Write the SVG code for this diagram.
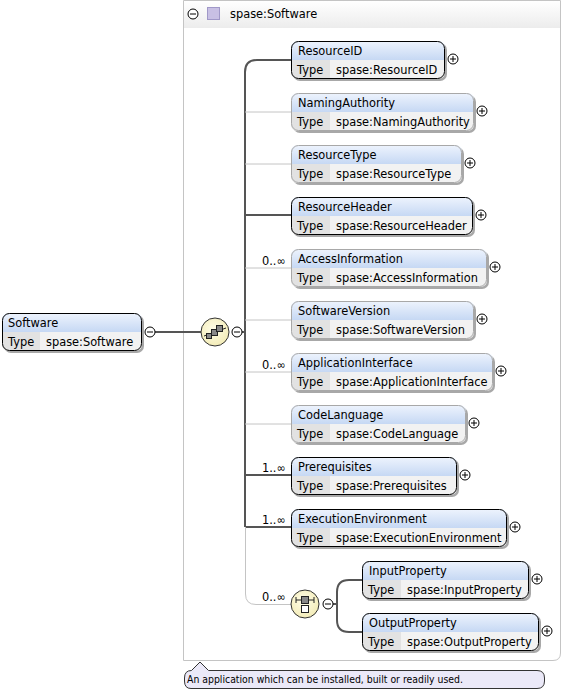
<svg xmlns="http://www.w3.org/2000/svg" width="563" height="693" viewBox="0 0 563 693">
<defs>
<linearGradient id="hg" x1="0" y1="0" x2="0" y2="1">
<stop offset="0" stop-color="#eef4fd"/>
<stop offset="1" stop-color="#c6d8f4"/>
</linearGradient>
<linearGradient id="bg" x1="0" y1="0" x2="0" y2="1">
<stop offset="0" stop-color="#ffffff"/>
<stop offset="1" stop-color="#ececec"/>
</linearGradient>
<radialGradient id="cg" cx="0.45" cy="0.4" r="0.6">
<stop offset="0" stop-color="#fffde8"/>
<stop offset="1" stop-color="#f3ecb8"/>
</radialGradient>
</defs>
<style>
text{font-family:"DejaVu Sans","Liberation Sans",sans-serif;font-size:11.4px;fill:#000}
.shadow{fill:#a8a8a8}
.hdr{fill:url(#hg)}
.body{fill:#f2f2f2}
.tcell{fill:#e2e2e2}
.req .outline{fill:none;stroke:#000;stroke-width:1}
.opt .outline{fill:none;stroke:#a8a8a8;stroke-width:1}
.pm{fill:#fff;stroke:#000;stroke-width:1}
.pmline{stroke:#000;stroke-width:1}
.dark{fill:none;stroke:#555;stroke-width:2}
.light{fill:none;stroke:#c4c4c4;stroke-width:1}
.comp{fill:url(#cg);stroke:#333;stroke-width:1}
</style>
<rect width="563" height="693" fill="#fff"/>
<!-- outer type box -->
<g id="typebox">
<path d="M183.5 0.5 H560.5 V653 Q560.5 660.5 553 660.5 H183.5 Z" fill="#fff" stroke="#c4c4c4"/>
<rect x="184" y="1" width="376" height="27" fill="url(#bg)"/>
<circle cx="193" cy="14" r="5" class="pm"/><line x1="190" y1="14" x2="196" y2="14" class="pmline"/>
<rect x="207.5" y="7.5" width="12" height="12" fill="#c8c0e4" stroke="#a098c8"/>
<text x="230" y="18">spase:Software</text>
</g>
<!-- connectors -->
<g id="connectors">
<line x1="155" y1="332" x2="201" y2="332" class="dark"/>
<path d="M245 527 V72 Q245 60 257 60 H291" class="dark"/>
<line x1="245" y1="215" x2="291" y2="215" class="dark"/>
<line x1="245" y1="475" x2="291" y2="475" class="dark"/>
<line x1="245" y1="527" x2="291" y2="527" class="dark"/>
<line x1="242" y1="332" x2="245" y2="332" class="dark"/>
<line x1="245" y1="112" x2="291" y2="112" class="light"/>
<line x1="245" y1="164" x2="291" y2="164" class="light"/>
<line x1="245" y1="268" x2="291" y2="268" class="light"/>
<line x1="245" y1="320" x2="291" y2="320" class="light"/>
<line x1="245" y1="372" x2="291" y2="372" class="light"/>
<line x1="245" y1="424" x2="291" y2="424" class="light"/>
<path d="M245.5 527 V594 Q245.5 604.5 256 604.5 H291" class="light"/>
<path d="M333 604 H337 M362 580 H349 Q337 580 337 592 V620 Q337 632 349 632 H362" class="dark"/>
<text x="262" y="265">0..∞</text>
<text x="262" y="369">0..∞</text>
<text x="262" y="472">1..∞</text>
<text x="262" y="524">1..∞</text>
<text x="262" y="601">0..∞</text>
</g>
<!-- root element -->
<g id="n-Software" class="req">
<rect class="shadow" x="4" y="315" width="140" height="38" rx="7"/>
<path class="hdr" d="M2 332 V320 Q2 313 9 313 H135 Q142 313 142 320 V332 Z"/>
<path class="body" d="M2 332 H142 V344 Q142 351 135 351 H9 Q2 351 2 344 Z"/>
<path class="tcell" d="M2 332 H40 V351 H9 Q2 351 2 344 Z"/>
<rect class="outline" x="2.5" y="313.5" width="139" height="37" rx="7"/>
<text x="8" y="327">Software</text>
<text x="8" y="346">Type</text>
<text x="46" y="346">spase:Software</text>
<circle cx="150" cy="332" r="5" class="pm"/><line x1="147" y1="332" x2="153" y2="332" class="pmline"/>
</g>
<!-- sequence compositor -->
<g id="seq">
<circle cx="215" cy="332" r="14" class="comp"/>
<line x1="204" y1="336" x2="226" y2="328" stroke="#222" stroke-width="1"/>
<rect x="206.5" y="333.5" width="5" height="5" fill="#888" stroke="#222"/>
<rect x="211.5" y="329.5" width="6" height="6" fill="#888" stroke="#222"/>
<rect x="216.5" y="325.5" width="6" height="6" fill="#888" stroke="#222"/>
<circle cx="237" cy="332" r="5" class="pm"/><line x1="234" y1="332" x2="240" y2="332" class="pmline"/>
</g>
<!-- child elements -->
<g id="n-ResourceID" class="req">
<rect class="shadow" x="293" y="43" width="154" height="38" rx="7"/>
<path class="hdr" d="M291 60 V48 Q291 41 298 41 H438 Q445 41 445 48 V60 Z"/>
<path class="body" d="M291 60 H445 V72 Q445 79 438 79 H298 Q291 79 291 72 Z"/>
<path class="tcell" d="M291 60 H330 V79 H298 Q291 79 291 72 Z"/>
<rect class="outline" x="291.5" y="41.5" width="153" height="37" rx="7"/>
<text x="298" y="55">ResourceID</text><text x="297" y="74">Type</text><text x="336" y="74">spase:ResourceID</text>
<circle cx="453" cy="59" r="5" class="pm"/><path d="M450 59 H456 M453 56 V62" class="pmline"/>
</g>
<g id="n-NamingAuthority" class="opt">
<rect class="shadow" x="293" y="95" width="183" height="38" rx="7"/>
<path class="hdr" d="M291 112 V100 Q291 93 298 93 H467 Q474 93 474 100 V112 Z"/>
<path class="body" d="M291 112 H474 V124 Q474 131 467 131 H298 Q291 131 291 124 Z"/>
<path class="tcell" d="M291 112 H330 V131 H298 Q291 131 291 124 Z"/>
<rect class="outline" x="291.5" y="93.5" width="182" height="37" rx="7"/>
<text x="298" y="107">NamingAuthority</text><text x="297" y="126">Type</text><text x="336" y="126">spase:NamingAuthority</text>
<circle cx="482" cy="111" r="5" class="pm"/><path d="M479 111 H485 M482 108 V114" class="pmline"/>
</g>
<g id="n-ResourceType" class="opt">
<rect class="shadow" x="293" y="147" width="171" height="38" rx="7"/>
<path class="hdr" d="M291 164 V152 Q291 145 298 145 H455 Q462 145 462 152 V164 Z"/>
<path class="body" d="M291 164 H462 V176 Q462 183 455 183 H298 Q291 183 291 176 Z"/>
<path class="tcell" d="M291 164 H330 V183 H298 Q291 183 291 176 Z"/>
<rect class="outline" x="291.5" y="145.5" width="170" height="37" rx="7"/>
<text x="298" y="159">ResourceType</text><text x="297" y="178">Type</text><text x="336" y="178">spase:ResourceType</text>
<circle cx="470" cy="163" r="5" class="pm"/><path d="M467 163 H473 M470 160 V166" class="pmline"/>
</g>
<g id="n-ResourceHeader" class="req">
<rect class="shadow" x="293" y="199" width="182" height="38" rx="7"/>
<path class="hdr" d="M291 216 V204 Q291 197 298 197 H466 Q473 197 473 204 V216 Z"/>
<path class="body" d="M291 216 H473 V228 Q473 235 466 235 H298 Q291 235 291 228 Z"/>
<path class="tcell" d="M291 216 H330 V235 H298 Q291 235 291 228 Z"/>
<rect class="outline" x="291.5" y="197.5" width="181" height="37" rx="7"/>
<text x="298" y="211">ResourceHeader</text><text x="297" y="230">Type</text><text x="336" y="230">spase:ResourceHeader</text>
<circle cx="481" cy="215" r="5" class="pm"/><path d="M478 215 H484 M481 212 V218" class="pmline"/>
</g>
<g id="n-AccessInformation" class="opt">
<rect class="shadow" x="293" y="251" width="196" height="38" rx="7"/>
<path class="hdr" d="M291 268 V256 Q291 249 298 249 H480 Q487 249 487 256 V268 Z"/>
<path class="body" d="M291 268 H487 V280 Q487 287 480 287 H298 Q291 287 291 280 Z"/>
<path class="tcell" d="M291 268 H330 V287 H298 Q291 287 291 280 Z"/>
<rect class="outline" x="291.5" y="249.5" width="195" height="37" rx="7"/>
<text x="298" y="263">AccessInformation</text><text x="297" y="282">Type</text><text x="336" y="282">spase:AccessInformation</text>
<circle cx="495" cy="267" r="5" class="pm"/><path d="M492 267 H498 M495 264 V270" class="pmline"/>
</g>
<g id="n-SoftwareVersion" class="opt">
<rect class="shadow" x="293" y="303" width="183" height="38" rx="7"/>
<path class="hdr" d="M291 320 V308 Q291 301 298 301 H467 Q474 301 474 308 V320 Z"/>
<path class="body" d="M291 320 H474 V332 Q474 339 467 339 H298 Q291 339 291 332 Z"/>
<path class="tcell" d="M291 320 H330 V339 H298 Q291 339 291 332 Z"/>
<rect class="outline" x="291.5" y="301.5" width="182" height="37" rx="7"/>
<text x="298" y="315">SoftwareVersion</text><text x="297" y="334">Type</text><text x="336" y="334">spase:SoftwareVersion</text>
<circle cx="482" cy="319" r="5" class="pm"/><path d="M479 319 H485 M482 316 V322" class="pmline"/>
</g>
<g id="n-ApplicationInterface" class="opt">
<rect class="shadow" x="293" y="355" width="202" height="38" rx="7"/>
<path class="hdr" d="M291 372 V360 Q291 353 298 353 H486 Q493 353 493 360 V372 Z"/>
<path class="body" d="M291 372 H493 V384 Q493 391 486 391 H298 Q291 391 291 384 Z"/>
<path class="tcell" d="M291 372 H330 V391 H298 Q291 391 291 384 Z"/>
<rect class="outline" x="291.5" y="353.5" width="201" height="37" rx="7"/>
<text x="298" y="367">ApplicationInterface</text><text x="297" y="386">Type</text><text x="336" y="386">spase:ApplicationInterface</text>
<circle cx="501" cy="371" r="5" class="pm"/><path d="M498 371 H504 M501 368 V374" class="pmline"/>
</g>
<g id="n-CodeLanguage" class="opt">
<rect class="shadow" x="293" y="407" width="175" height="38" rx="7"/>
<path class="hdr" d="M291 424 V412 Q291 405 298 405 H459 Q466 405 466 412 V424 Z"/>
<path class="body" d="M291 424 H466 V436 Q466 443 459 443 H298 Q291 443 291 436 Z"/>
<path class="tcell" d="M291 424 H330 V443 H298 Q291 443 291 436 Z"/>
<rect class="outline" x="291.5" y="405.5" width="174" height="37" rx="7"/>
<text x="298" y="419">CodeLanguage</text><text x="297" y="438">Type</text><text x="336" y="438">spase:CodeLanguage</text>
<circle cx="474" cy="423" r="5" class="pm"/><path d="M471 423 H477 M474 420 V426" class="pmline"/>
</g>
<g id="n-Prerequisites" class="req">
<rect class="shadow" x="293" y="459" width="166" height="38" rx="7"/>
<path class="hdr" d="M291 476 V464 Q291 457 298 457 H450 Q457 457 457 464 V476 Z"/>
<path class="body" d="M291 476 H457 V488 Q457 495 450 495 H298 Q291 495 291 488 Z"/>
<path class="tcell" d="M291 476 H330 V495 H298 Q291 495 291 488 Z"/>
<rect class="outline" x="291.5" y="457.5" width="165" height="37" rx="7"/>
<text x="298" y="471">Prerequisites</text><text x="297" y="490">Type</text><text x="336" y="490">spase:Prerequisites</text>
<circle cx="465" cy="475" r="5" class="pm"/><path d="M462 475 H468 M465 472 V478" class="pmline"/>
</g>
<g id="n-ExecutionEnvironment" class="req">
<rect class="shadow" x="293" y="511" width="216" height="38" rx="7"/>
<path class="hdr" d="M291 528 V516 Q291 509 298 509 H500 Q507 509 507 516 V528 Z"/>
<path class="body" d="M291 528 H507 V540 Q507 547 500 547 H298 Q291 547 291 540 Z"/>
<path class="tcell" d="M291 528 H330 V547 H298 Q291 547 291 540 Z"/>
<rect class="outline" x="291.5" y="509.5" width="215" height="37" rx="7"/>
<text x="298" y="523">ExecutionEnvironment</text><text x="297" y="542">Type</text><text x="336" y="542">spase:ExecutionEnvironment</text>
<circle cx="515" cy="527" r="5" class="pm"/><path d="M512 527 H518 M515 524 V530" class="pmline"/>
</g>
<!-- choice compositor -->
<g id="choice">
<circle cx="305" cy="604" r="14" class="comp"/>
<path d="M296 600 H314 M296 597 V603 M314 597 V603" stroke="#222" stroke-width="1" fill="none"/>
<rect x="301.5" y="596.5" width="7" height="7" fill="#888" stroke="#222"/>
<rect x="301.5" y="605.5" width="7" height="7" fill="#fff" stroke="#222"/>
<circle cx="328" cy="604" r="5" class="pm"/><line x1="325" y1="604" x2="331" y2="604" class="pmline"/>
</g>
<g id="n-InputProperty" class="req">
<rect class="shadow" x="364" y="563" width="167" height="38" rx="7"/>
<path class="hdr" d="M362 580 V568 Q362 561 369 561 H522 Q529 561 529 568 V580 Z"/>
<path class="body" d="M362 580 H529 V592 Q529 599 522 599 H369 Q362 599 362 592 Z"/>
<path class="tcell" d="M362 580 H401 V599 H369 Q362 599 362 592 Z"/>
<rect class="outline" x="362.5" y="561.5" width="166" height="37" rx="7"/>
<text x="369" y="575">InputProperty</text><text x="368" y="594">Type</text><text x="407" y="594">spase:InputProperty</text>
<circle cx="537" cy="579" r="5" class="pm"/><path d="M534 579 H540 M537 576 V582" class="pmline"/>
</g>
<g id="n-OutputProperty" class="req">
<rect class="shadow" x="364" y="615" width="177" height="38" rx="7"/>
<path class="hdr" d="M362 632 V620 Q362 613 369 613 H532 Q539 613 539 620 V632 Z"/>
<path class="body" d="M362 632 H539 V644 Q539 651 532 651 H369 Q362 651 362 644 Z"/>
<path class="tcell" d="M362 632 H401 V651 H369 Q362 651 362 644 Z"/>
<rect class="outline" x="362.5" y="613.5" width="176" height="37" rx="7"/>
<text x="369" y="627">OutputProperty</text><text x="368" y="646">Type</text><text x="407" y="646">spase:OutputProperty</text>
<circle cx="547" cy="631" r="5" class="pm"/><path d="M544 631 H550 M547 628 V634" class="pmline"/>
</g>
<!-- annotation -->
<g id="annotation">
<path d="M191.5 670.5 L200 662 L208.5 670.5 H537 Q544.5 670.5 544.5 678 V681 Q544.5 688.5 537 688.5 H191 Q184.5 688.5 184.5 681 V678 Q184.5 670.5 191.5 670.5 Z" fill="#ebe9f8" stroke="#333"/>
<text x="187" y="683" style="font-size:9.6px" textLength="276" lengthAdjust="spacingAndGlyphs">An application which can be installed, built or readily used.</text>
</g>
</svg>
